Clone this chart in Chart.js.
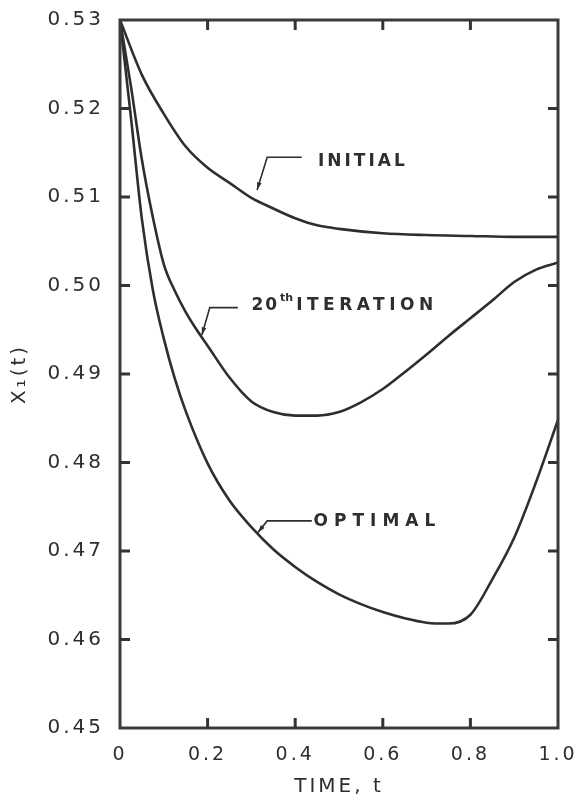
<!DOCTYPE html>
<html>
<head>
<meta charset="utf-8">
<script src="https://cdn.jsdelivr.net/npm/chart.js@4/dist/chart.umd.min.js"></script>
<style>
  html, body { margin: 0; padding: 0; background: #ffffff; }
  #wrap { width: 584px; height: 803px; position: relative; }
</style>
</head>
<body>
<div id="wrap"><canvas id="c" width="584" height="803"></canvas></div>
<script>
// ---- data ----
const initialT = [0, 0.05, 0.1, 0.15, 0.2, 0.25, 0.3, 0.35, 0.4, 0.45, 0.5, 0.6, 0.7, 0.8, 0.9, 1.0];
const initialX = [0.530, 0.5238, 0.5194, 0.5157, 0.5133, 0.5116, 0.5099, 0.5087, 0.5076, 0.5068, 0.5064, 0.5059, 0.5057, 0.5056, 0.5055, 0.5055];

const iterT = [0, 0.025, 0.05, 0.075, 0.1, 0.125, 0.15, 0.175, 0.2, 0.25, 0.3, 0.35, 0.4, 0.45, 0.5, 0.55, 0.6, 0.65, 0.7, 0.75, 0.8, 0.85, 0.9, 0.95, 1.0];
const iterX = [0.530, 0.5225, 0.5142, 0.5077, 0.5024, 0.4994, 0.4970, 0.4950, 0.4932, 0.4896, 0.4869, 0.4857, 0.4853, 0.4853, 0.4857, 0.4868, 0.4883, 0.4902, 0.4922, 0.4943, 0.4963, 0.4983, 0.5004, 0.5018, 0.5026];

const optT = [0, 0.025, 0.05, 0.075, 0.1, 0.125, 0.15, 0.2, 0.25, 0.3, 0.35, 0.4, 0.45, 0.5, 0.55, 0.6, 0.65, 0.7, 0.75, 0.8, 0.85, 0.9, 0.95, 1.0];
const optX = [0.530, 0.5190, 0.5075, 0.4995, 0.4940, 0.4895, 0.4858, 0.4799, 0.4757, 0.4727, 0.4702, 0.4682, 0.4665, 0.4651, 0.4640, 0.4631, 0.4624, 0.4619, 0.4618, 0.4628, 0.4668, 0.4715, 0.4778, 0.4848];

const xTicks = [0, 0.2, 0.4, 0.6, 0.8, 1.0];
const xTickLabels = ['0', '0.2', '0.4', '0.6', '0.8', '1.0'];
const yTicks = [0.45, 0.46, 0.47, 0.48, 0.49, 0.50, 0.51, 0.52, 0.53];
const yTickLabels = ['0.45', '0.46', '0.47', '0.48', '0.49', '0.50', '0.51', '0.52', '0.53'];

const seriesNames = ['INITIAL', '20th ITERATION', 'OPTIMAL'];

function pts(ts, xs) { return ts.map((t, i) => ({ x: t, y: xs[i] })); }

const INK = '#2e2e2e';
const FONT = '"DejaVu Sans", sans-serif';

const spacing = {
  id: 'spacing',
  beforeDraw(chart) { chart.ctx.letterSpacing = '3px'; }
};

function zeroPad(s) { s.paddingTop = 0; s.paddingBottom = 0; s.paddingLeft = 0; s.paddingRight = 0; }

// frame, inner ticks and curve labels
const decor = {
  id: 'decor',
  afterDatasetsDraw(chart) {
    const { ctx, chartArea: a, scales: { x, y } } = chart;
    ctx.save();
    ctx.strokeStyle = '#3a3a3a';
    ctx.lineWidth = 3;
    ctx.strokeRect(a.left, a.top, a.right - a.left, a.bottom - a.top);
    ctx.lineWidth = 3;
    ctx.strokeStyle = '#333';
    xTicks.slice(1, -1).forEach(v => {
      const px = x.getPixelForValue(v);
      ctx.beginPath(); ctx.moveTo(px, a.bottom); ctx.lineTo(px, a.bottom - 10); ctx.stroke();
      ctx.beginPath(); ctx.moveTo(px, a.top); ctx.lineTo(px, a.top + 10); ctx.stroke();
    });
    yTicks.slice(1, -1).forEach(v => {
      const py = y.getPixelForValue(v);
      ctx.beginPath(); ctx.moveTo(a.left, py); ctx.lineTo(a.left + 10, py); ctx.stroke();
      ctx.beginPath(); ctx.moveTo(a.right, py); ctx.lineTo(a.right - 10, py); ctx.stroke();
    });

    // leader arrows
    const arrow = (p) => {
      ctx.strokeStyle = INK; ctx.lineWidth = 1.6;
      ctx.beginPath();
      p.forEach((q, i) => {
        const px = x.getPixelForValue(q[0]), py = y.getPixelForValue(q[1]);
        if (i === 0) ctx.moveTo(px, py); else ctx.lineTo(px, py);
      });
      ctx.stroke();
      const n = p.length;
      const x1 = x.getPixelForValue(p[n - 2][0]), y1 = y.getPixelForValue(p[n - 2][1]);
      const x2 = x.getPixelForValue(p[n - 1][0]), y2 = y.getPixelForValue(p[n - 1][1]);
      const ang = Math.atan2(y2 - y1, x2 - x1);
      ctx.fillStyle = INK;
      ctx.beginPath();
      ctx.moveTo(x2, y2);
      ctx.lineTo(x2 - 8 * Math.cos(ang - 0.3), y2 - 8 * Math.sin(ang - 0.3));
      ctx.lineTo(x2 - 8 * Math.cos(ang + 0.3), y2 - 8 * Math.sin(ang + 0.3));
      ctx.closePath(); ctx.fill();
    };
    arrow([[0.415, 0.5145], [0.336, 0.5145], [0.313, 0.5108]]);
    arrow([[0.269, 0.4975], [0.205, 0.4975], [0.187, 0.4944]]);
    arrow([[0.438, 0.4734], [0.336, 0.4734], [0.315, 0.4721]]);

    ctx.fillStyle = INK;
    ctx.textBaseline = 'middle';
    ctx.textAlign = 'left';
    ctx.font = 'bold 17px ' + FONT;
    ctx.letterSpacing = '3px';
    ctx.fillText(seriesNames[0], x.getPixelForValue(0.452), y.getPixelForValue(0.5140));

    let px = x.getPixelForValue(0.30), py = y.getPixelForValue(0.4977);
    ctx.letterSpacing = '2px';
    ctx.fillText('20', px, py);
    px += ctx.measureText('20').width + 1;
    ctx.font = 'bold 11px ' + FONT;
    ctx.letterSpacing = '0px';
    ctx.fillText('th', px, py - 8);
    px += ctx.measureText('th').width + 3;
    ctx.font = 'bold 17px ' + FONT;
    ctx.letterSpacing = '4.5px';
    ctx.fillText('ITERATION', px, py);

    ctx.letterSpacing = '6px';
    ctx.fillText(seriesNames[2], x.getPixelForValue(0.442), y.getPixelForValue(0.4733));
    ctx.restore();
  }
};

const lineStyle = {
  borderColor: INK,
  borderWidth: 2.6,
  pointRadius: 0,
  fill: false,
  cubicInterpolationMode: 'monotone'
};

new Chart(document.getElementById('c'), {
  type: 'line',
  data: {
    datasets: [
      Object.assign({ label: seriesNames[0], data: pts(initialT, initialX) }, lineStyle),
      Object.assign({ label: seriesNames[1], data: pts(iterT, iterX) }, lineStyle),
      Object.assign({ label: seriesNames[2], data: pts(optT, optX) }, lineStyle)
    ]
  },
  options: {
    responsive: false,
    animation: false,
    devicePixelRatio: 1,
    layout: { autoPadding: false, padding: { left: 0, right: 26, top: 20, bottom: 0 } },
    plugins: { legend: { display: false }, tooltip: { enabled: false } },
    scales: {
      x: {
        type: 'linear',
        min: 0, max: 1,
        grid: { display: false, drawTicks: false },
        border: { display: false },
        afterBuildTicks: (s) => { s.ticks = xTicks.map(v => ({ value: v })); },
        afterFit: (s) => { s.height = 75; zeroPad(s); },
        ticks: {
          padding: 16,
          color: INK,
          font: { family: FONT, size: 19 },
          callback: (v) => { const i = xTicks.findIndex(t => Math.abs(t - v) < 1e-9); return i >= 0 ? xTickLabels[i] : ''; }
        },
        title: {
          display: true, text: 'TIME, t', color: INK,
          font: { family: FONT, size: 20 },
          padding: { top: 0, bottom: 4 }
        }
      },
      y: {
        type: 'linear',
        min: 0.45, max: 0.53,
        grid: { display: false, drawTicks: false },
        border: { display: false },
        afterBuildTicks: (s) => { s.ticks = yTicks.map(v => ({ value: v })); },
        afterFit: (s) => { s.width = 120; zeroPad(s); },
        ticks: {
          padding: 16,
          color: INK,
          font: { family: FONT, size: 20 },
          callback: (v) => { const i = yTicks.findIndex(t => Math.abs(t - v) < 1e-9); return i >= 0 ? yTickLabels[i] : ''; }
        },
        title: {
          display: true, text: 'X\u2081(t)', color: INK,
          font: { family: FONT, size: 20 },
          padding: { top: 8, bottom: 0 }
        }
      }
    }
  },
  plugins: [spacing, decor]
});
</script>
</body>
</html>
